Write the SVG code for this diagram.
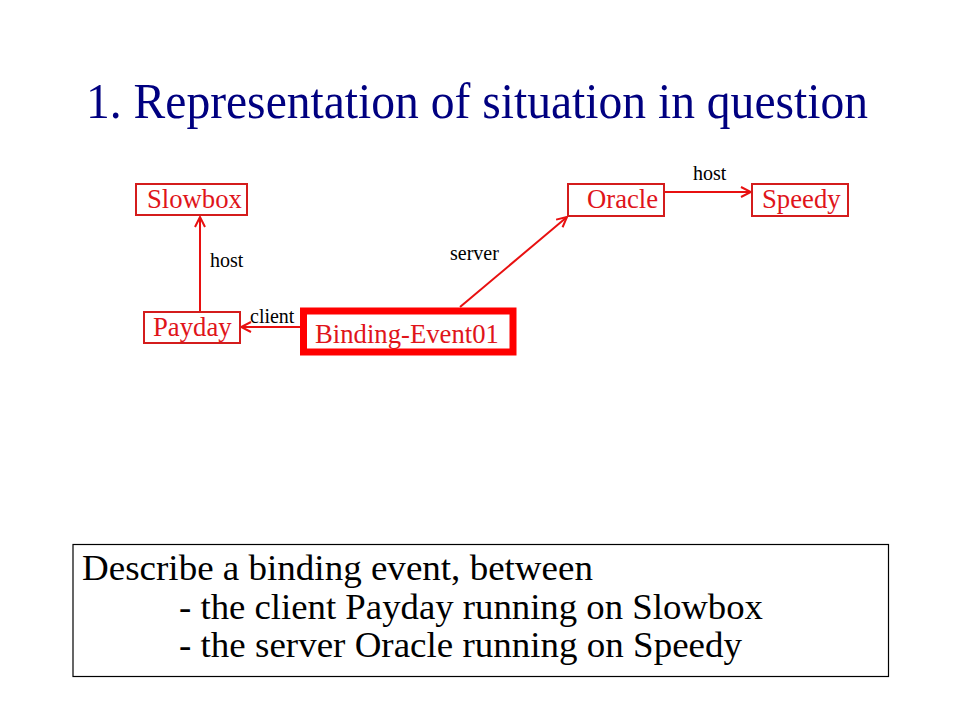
<svg xmlns="http://www.w3.org/2000/svg" width="960" height="720" viewBox="0 0 960 720">
<defs>
<style>
.title{font-family:"Liberation Serif","Times New Roman",serif;font-size:51px;fill:#000080}
.node rect{fill:#fff;stroke:#d41c1c;stroke-width:2}
.node text{font-family:"Liberation Serif","Times New Roman",serif;font-size:26.7px;fill:#e0141a}
.lbl{font-family:"Liberation Serif","Times New Roman",serif;font-size:20px;fill:#000}
.edge{stroke:#e81010;stroke-width:2;fill:none;marker-end:url(#arr)}
.desc{font-family:"Liberation Serif","Times New Roman",serif;font-size:36px;fill:#000}
</style>
<marker id="arr" viewBox="0 0 12 12" refX="11" refY="6" markerWidth="12" markerHeight="12" markerUnits="userSpaceOnUse" orient="auto">
<path d="M1,1 L11,6 L1,11" fill="none" stroke="#e81010" stroke-width="2"/>
</marker>
</defs>
<rect width="960" height="720" fill="#fff"/>
<text class="title" x="86" y="118" textLength="782" lengthAdjust="spacingAndGlyphs">1. Representation of situation in question</text>

<g id="connectors">
<line class="edge" x1="200" y1="311" x2="200" y2="217"/>
<line class="edge" x1="300" y1="327" x2="241" y2="327"/>
<line class="edge" x1="460" y1="307" x2="567" y2="217"/>
<line class="edge" x1="665" y1="192" x2="751" y2="192"/>
<text class="lbl" x="210" y="267">host</text>
<text class="lbl" x="250" y="323">client</text>
<text class="lbl" x="450" y="260">server</text>
<text class="lbl" x="693" y="180">host</text>
</g>

<g id="node-slowbox" class="node">
<rect x="136" y="184" width="111" height="31"/>
<text x="147" y="208">Slowbox</text>
</g>
<g id="node-payday" class="node">
<rect x="144" y="312" width="96" height="31"/>
<text x="153" y="336">Payday</text>
</g>
<g id="node-binding" class="node">
<rect x="303.5" y="311" width="209.5" height="41" style="stroke:#ff0000;stroke-width:7"/>
<text x="315" y="343">Binding-Event01</text>
</g>
<g id="node-oracle" class="node">
<rect x="568" y="184" width="96" height="32"/>
<text x="587" y="208">Oracle</text>
</g>
<g id="node-speedy" class="node">
<rect x="752" y="184" width="96" height="32"/>
<text x="762" y="208">Speedy</text>
</g>

<g id="description">
<rect x="73" y="544.5" width="815.5" height="132" fill="#fff" stroke="#000" stroke-width="1.2"/>
<text class="desc" x="82" y="580" textLength="511" lengthAdjust="spacingAndGlyphs">Describe a binding event, between</text>
<text class="desc" x="179" y="619" textLength="584" lengthAdjust="spacingAndGlyphs">- the client Payday running on Slowbox</text>
<text class="desc" x="179" y="657" textLength="563" lengthAdjust="spacingAndGlyphs">- the server Oracle running on Speedy</text>
</g>
</svg>
